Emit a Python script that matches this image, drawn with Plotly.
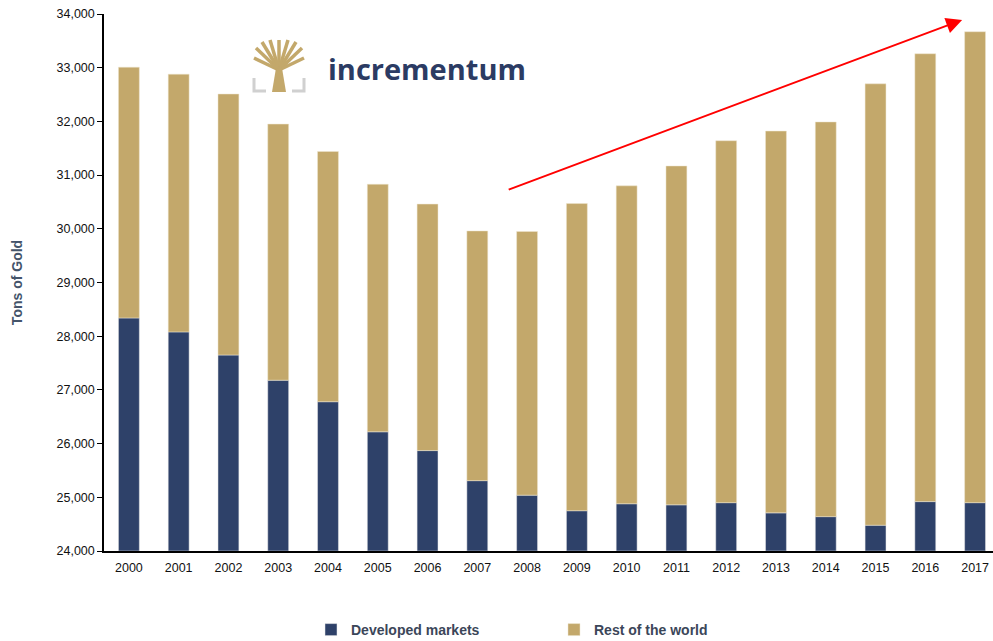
import plotly.graph_objects as go

years = [str(y) for y in range(2000, 2018)]
developed = [28340, 28080, 27650, 27180, 26780, 26220, 25870, 25310, 25040, 24750,
             24880, 24860, 24900, 24710, 24640, 24480, 24920, 24900]
total = [33010, 32880, 32510, 31950, 31440, 30830, 30460, 29960, 29950, 30470,
         30800, 31170, 31640, 31820, 31990, 32700, 33260, 33670]
rest = [t - d for t, d in zip(total, developed)]
base = 24000
y_ticks = list(range(24000, 34001, 1000))

navy = "#2E4169"
gold = "#C3A86B"

fig = go.Figure()
fig.add_bar(x=years, y=[d - base for d in developed], base=base, name="<b>Developed markets</b>",
            marker=dict(color=navy, line=dict(color="#e8e8e8", width=0.5)), width=0.42)
fig.add_bar(x=years, y=rest, base=developed, name="<b>Rest of the world</b>",
            marker=dict(color=gold, line=dict(color="#eee6d0", width=0.5)), width=0.42)

L, R, T, B = 104, 993, 14, 551


def px(x):
    return (x - L) / (R - L)


def py(y):
    return (B - y) / (B - T)


fig.update_layout(
    barmode="overlay",
    width=993, height=641,
    margin=dict(l=L, r=993 - R, t=T, b=641 - B, autoexpand=False),
    plot_bgcolor="white", paper_bgcolor="white",
    font=dict(family="Liberation Sans, Arial", size=12, color="#111"),
    showlegend=True,
    legend=dict(orientation="h", x=px(311), xanchor="left", y=py(614), yanchor="top",
                font=dict(size=14, color="#3b4659", family="Liberation Sans, Arial"),
                entrywidth=198, itemwidth=30, traceorder="normal"),
    xaxis=dict(type="category", range=[-0.5, 17.36], showline=True, linecolor="black",
               linewidth=1.5, ticks="", showgrid=False, tickfont=dict(size=12.5),
               automargin=False, ticklabelstandoff=4),
    yaxis=dict(range=[24000, 34000], tickvals=y_ticks, tickformat=",", showline=True,
               linecolor="black", linewidth=1.5, ticks="outside", ticklen=5,
               tickcolor="black", showgrid=False, zeroline=False, automargin=False,
               tickfont=dict(size=12.5),
               title=dict(text="<b>Tons of Gold</b>", font=dict(size=14, color="#44546A"),
                          standoff=31)),
)

# red trend arrow
fig.add_annotation(x=16.74, y=33890, ax=7.6, ay=30720, xref="x", yref="y",
                   axref="x", ayref="y", showarrow=True, arrowhead=2, arrowsize=1.6,
                   arrowwidth=2, arrowcolor="#FF0000", text="")

fig.add_annotation(x=px(326), y=py(68), xref="paper", yref="paper", xanchor="left",
                   yanchor="middle", text="<b>incrementum</b>", showarrow=False,
                   font=dict(family="Open Sans, Liberation Sans", size=29, color="#2B3B63"))

# logo icon: grey brackets
grey = "#d0d0d0"
for path in [
    f"M {px(254)} {py(78)} L {px(254)} {py(91)} L {px(266)} {py(91)}",
    f"M {px(304)} {py(78)} L {px(304)} {py(91)} L {px(292)} {py(91)}",
]:
    fig.add_shape(type="path", xref="paper", yref="paper", path=path,
                  line=dict(color=grey, width=3))
# trunk
fig.add_shape(type="path", xref="paper", yref="paper",
              path=(f"M {px(272)} {py(92)} L {px(276)} {py(68)} L {px(282)} {py(68)} "
                    f"L {px(286)} {py(92)} Z"),
              fillcolor=gold, line=dict(width=0))
# branches
branches = [(254, 58), (256, 48), (262, 42), (270, 40), (279, 40), (288, 40), (296, 42),
            (302, 48), (304, 58)]
for bx, by in branches:
    fig.add_shape(type="line", xref="paper", yref="paper",
                  x0=px(279), y0=py(70), x1=px(bx), y1=py(by),
                  line=dict(color=gold, width=3.5))

fig.write_html("out.html", config={"displayModeBar": False},
               post_script="document.body.style.margin='0';")
